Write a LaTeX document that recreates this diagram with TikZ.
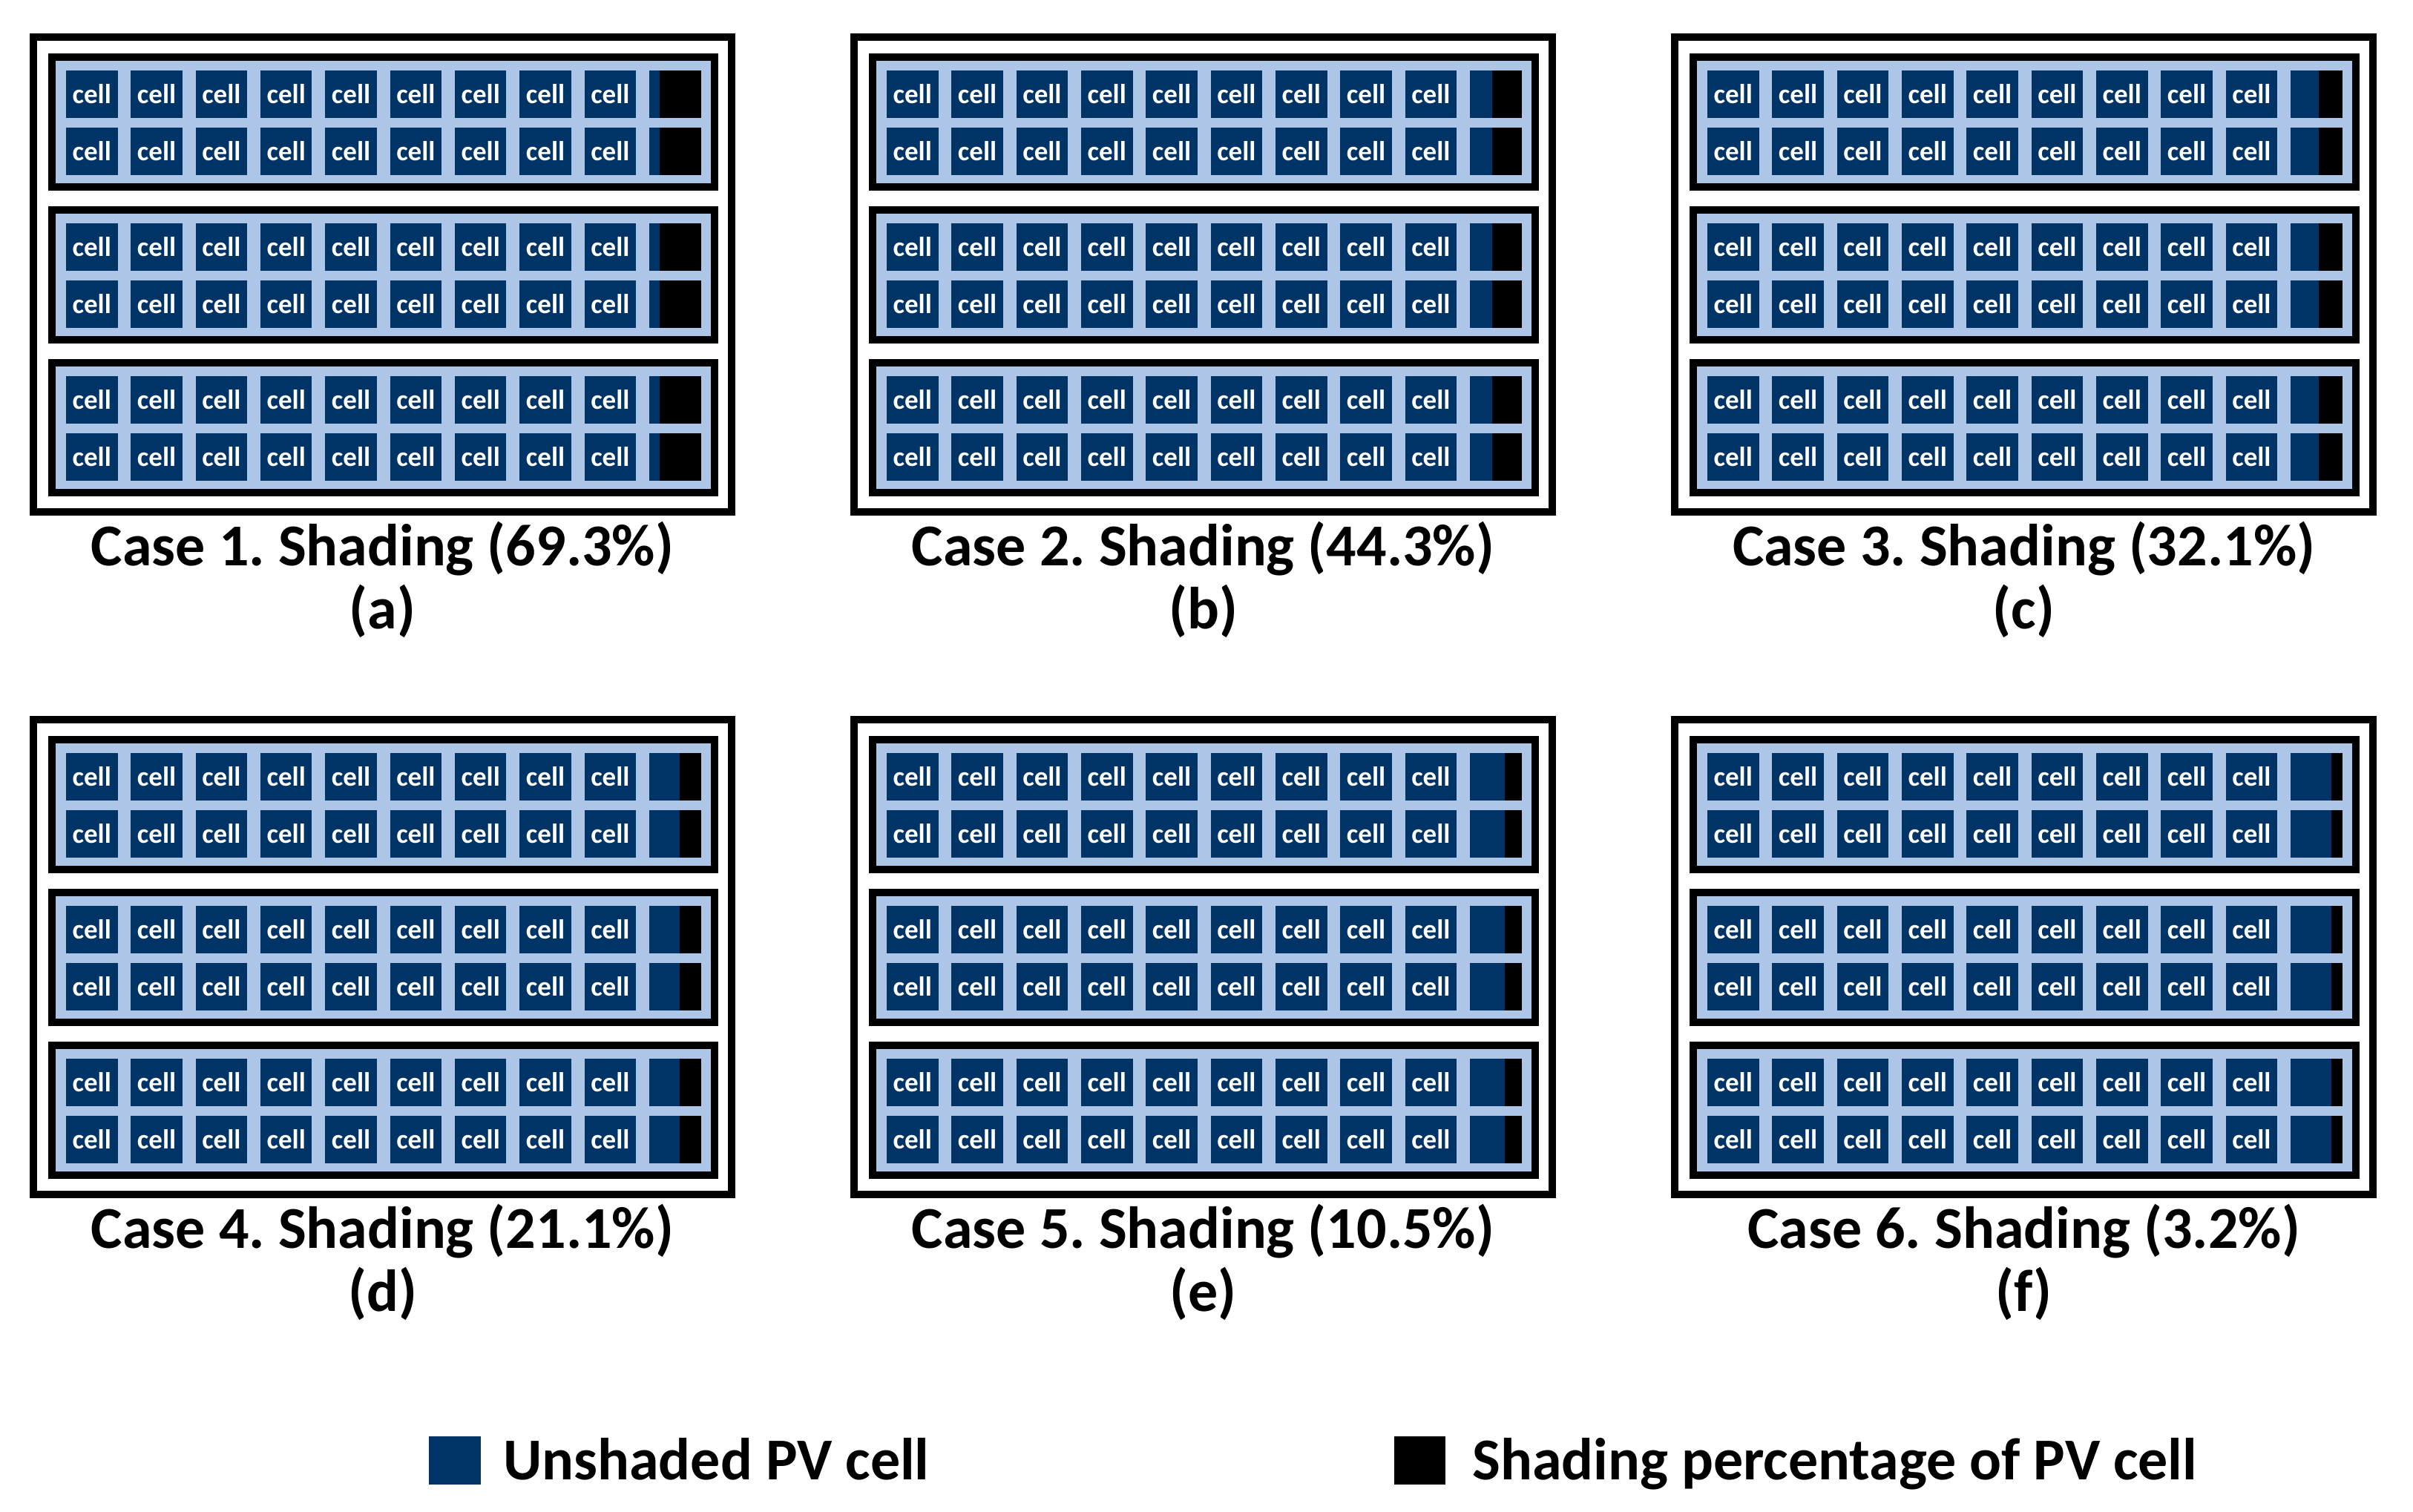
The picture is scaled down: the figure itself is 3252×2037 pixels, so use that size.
\documentclass[tikz,border=0pt]{standalone}
\usepackage{fontspec}
\setmainfont{Carlito}
\frenchspacing
\definecolor{cellblue}{RGB}{0,51,102}
\definecolor{panelblue}{RGB}{173,198,231}
\tikzset{
  frame/.style={draw=black, line width=10pt, fill=white},
  module/.style={draw=black, line width=10pt, fill=panelblue},
  pvcell/.style={fill=cellblue, inner sep=0pt, minimum width=69.5pt, minimum height=64pt,
     text=white, font=\fontsize{37}{37}\selectfont\bfseries},
  lastcell/.style={fill=cellblue, inner sep=0pt, minimum width=70pt, minimum height=64pt},
  shade/.style={fill=black},
  caption/.style={font=\fontsize{80}{85}\selectfont\bfseries, anchor=base, inner sep=0pt},
  legtext/.style={font=\fontsize{80}{85}\selectfont\bfseries, anchor=base west, inner sep=0pt},
}
\begin{document}
\begin{tikzpicture}[x=1pt,y=-1pt]
\useasboundingbox (0,0) rectangle (3252,2037);
\foreach \dx/\dy/\f/\txt/\lab [count=\k] in {0/0/56/69.3/a, 1106/0/40/44.3/b, 2212/0/32/32.1/c, 0/920/29/21.1/d, 1106/920/23/10.5/e, 2212/920/15/3.2/f} {
  \begin{scope}[shift={(\dx,\dy)}]
    \draw[frame] (45,50) rectangle (986,690);
    \foreach \m in {0,1,2} {
      \draw[module] (70,77+206*\m) rectangle (963,252+206*\m);
      \foreach \r in {0,1} {
        \foreach \c in {0,...,8} {
          \node[pvcell] (c\k-\m-\r-\c) at (123.75+87.33*\c,127+206*\m+77*\r) {cell};
        }
        \node[lastcell] (s\k-\m-\r) at (910,127+206*\m+77*\r) {};
        \fill[shade] ([xshift=-\f pt]s\k-\m-\r.north east) rectangle (s\k-\m-\r.south east);
      }
    }
    \node[caption] (cap\k) at (515.5,762) {Case \k. Shading (\txt\%)};
    \node[caption] (lab\k) at (515.5,847) {(\lab)};
  \end{scope}
}
\node[fill=cellblue, minimum width=70pt, minimum height=65pt, inner sep=0pt] (legblue) at (613,1968.5) {};
\node[legtext] (legbluetext) at (678,1994) {Unshaded PV cell};
\node[fill=black, minimum width=69pt, minimum height=65pt, inner sep=0pt] (legblack) at (1913.5,1968.5) {};
\node[legtext] (legblacktext) at (1984,1994) {Shading percentage of PV cell};
\end{tikzpicture}
\end{document}
